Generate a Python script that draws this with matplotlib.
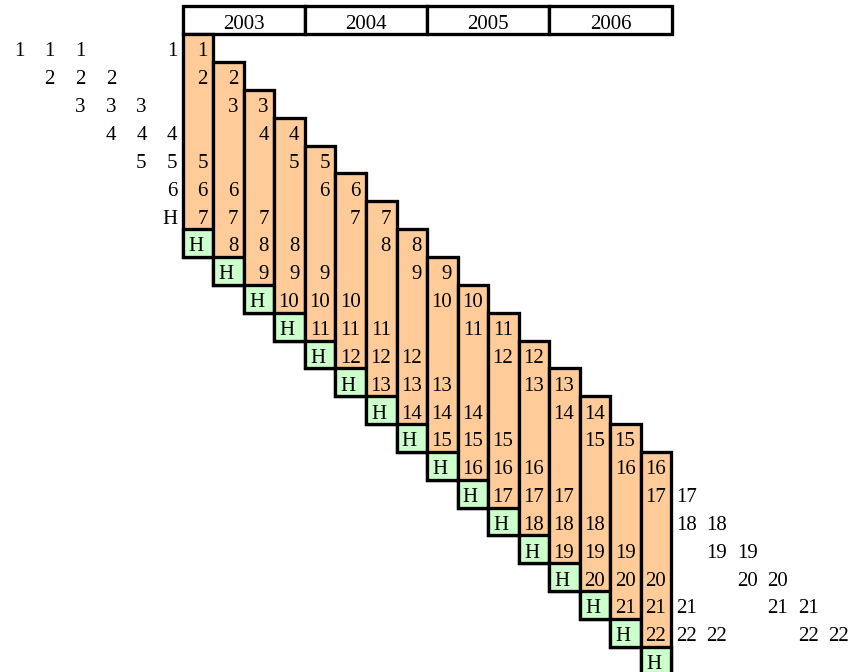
import matplotlib
matplotlib.use("Agg")
import matplotlib.pyplot as plt
from matplotlib.patches import Rectangle

# data
years = ["2003", "2004", "2005", "2006"]
cols_per_year = 4
block_start = [1, 2, 3, 4, 5, 6, 7, 8, 9, 10, 11, 12, 13, 14, 15, 16]
ghost_start_left = [-5, -4, -3, -2, -1, 0]
ghost_start_right = [17, 18, 19, 20, 21, 22]
block_len = 7
shown_pos = [0, 1, 4, 5, 6]
first_row, last_row = 1, 22
holdout = "H"

orange = "#FFCC99"
green = "#CCFFCC"

W, H = 856, 672
dpi = 100
cw, rh = 30.55, 27.85
x0, y0 = 182.7, 6.3
lw = 3.3 * 72 / dpi

fig = plt.figure(figsize=(W / dpi, H / dpi), dpi=dpi)
ax = fig.add_axes([0, 0, 1, 1])
ax.set_xlim(-x0 / cw, (W - x0) / cw)
ax.set_ylim((H - y0) / rh, -y0 / rh)
ax.axis("off")

font = dict(family="Liberation Serif", fontsize=15)
pad = 5.5 / cw
mid = 0.55  # text sits a little below the middle of its row

# header boxes
for i, yr in enumerate(years):
    ax.add_patch(Rectangle((i * cols_per_year, 0), cols_per_year, 1,
                           facecolor="white", edgecolor="black", lw=lw,
                           joinstyle="miter"))
    ax.text(i * cols_per_year + cols_per_year / 2, mid, yr,
            ha="center", va="center_baseline", **font)

# shaded blocks
for s in block_start:
    c = s - 1
    ax.add_patch(Rectangle((c, s), 1, block_len + 1, facecolor=orange,
                           edgecolor="black", lw=lw, joinstyle="miter"))
    ax.add_patch(Rectangle((c, s + block_len), 1, 1, facecolor=green,
                           edgecolor="black", lw=lw, joinstyle="miter"))
    ax.text(c + 0.17, s + block_len + mid, holdout,
            ha="left", va="center_baseline", **font)

# numbers
for s in ghost_start_left + block_start + ghost_start_right:
    c = s - 1
    for p in shown_pos:
        r = s + p
        if first_row <= r <= last_row:
            ax.text(c + 1 - pad, r + mid, str(r),
                    ha="right", va="center_baseline", **font)

# holdout label for the column just left of the grid
c = ghost_start_left[-1] - 1
ax.text(c + 1 - pad, ghost_start_left[-1] + block_len + mid, holdout,
        ha="right", va="center_baseline", **font)

fig.savefig("out.png", dpi=dpi)
